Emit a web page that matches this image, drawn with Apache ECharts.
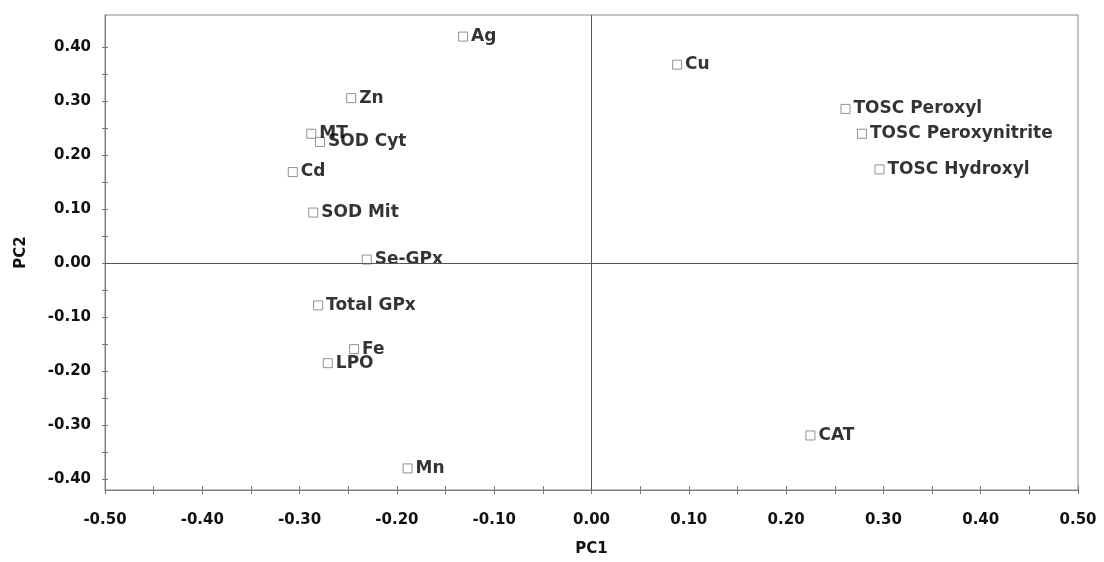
<!DOCTYPE html>
<html lang="en">
<head>
	<meta charset="UTF-8">
	<title>PCA loadings</title>
	<style>
		html, body { margin: 0; padding: 0; background: #fff; }
		#main { width: 1104px; height: 562px; }
	</style>
</head>
<body>
	<div id="main"></div>
<script type="text/javascript" src="https://cdn.jsdelivr.net/npm/echarts@6/dist/echarts.min.js"></script>
<script type="text/javascript">
		// 变量名称
		var names = ['Ag', 'Zn', 'MT', 'SOD Cyt', 'Cd', 'SOD Mit', 'Se-GPx', 'Total GPx', 'Fe', 'LPO', 'Mn',
			'Cu', 'TOSC Peroxyl', 'TOSC Peroxynitrite', 'TOSC Hydroxyl', 'CAT'];
		// PC1 坐标
		var pc1 = [-0.132, -0.247, -0.288, -0.279, -0.307, -0.286, -0.231, -0.281, -0.244, -0.271, -0.189,
			0.088, 0.261, 0.278, 0.296, 0.225];
		// PC2 坐标
		var pc2 = [0.420, 0.306, 0.240, 0.225, 0.169, 0.094, 0.007, -0.078, -0.159, -0.185, -0.380,
			0.368, 0.286, 0.240, 0.174, -0.319];
		// 刻度
		var xTicks = [-0.5, -0.4, -0.3, -0.2, -0.1, 0, 0.1, 0.2, 0.3, 0.4, 0.5];
		var yTicks = [-0.4, -0.3, -0.2, -0.1, 0, 0.1, 0.2, 0.3, 0.4];

		var xMinor = [];
		for (var i = 0; i < xTicks.length; i++) {
			xMinor.push(xTicks[i]);
			if (i < xTicks.length - 1) xMinor.push(+(xTicks[i] + 0.05).toFixed(2));
		}
		var yMinor = [];
		for (var j = 0; j < yTicks.length; j++) {
			yMinor.push(yTicks[j]);
			if (j < yTicks.length - 1) yMinor.push(+(yTicks[j] + 0.05).toFixed(2));
		}

		var points = [];
		for (var k = 0; k < names.length; k++) {
			points.push({ name: names[k], value: [pc1[k], pc2[k]] });
		}

		var font = 'DejaVu Sans, Liberation Sans, sans-serif';
		var axisColor = '#7a7a7a';
		var fmt = function (v) { return (+v).toFixed(2); };

		var myChart = echarts.init(document.getElementById('main'));
		var option = {
			animation: false,
			grid: {
				left: 105, right: 26, top: 15, bottom: 72,
				show: true, borderColor: '#8a8a8a', borderWidth: 1
			},
			xAxis: [{
				type: 'value', min: -0.5, max: 0.5,
				name: 'PC1', nameLocation: 'middle', nameGap: 52,
				nameTextStyle: { fontFamily: font, fontWeight: 'bold', fontSize: 15, color: '#111' },
				axisLine: { show: true, onZero: false, lineStyle: { color: axisColor, width: 1 } },
				axisTick: { show: true, customValues: xMinor, length: 4, lineStyle: { color: axisColor } },
				axisLabel: {
					customValues: xTicks, formatter: fmt, margin: 23,
					fontFamily: font, fontWeight: 'bold', fontSize: 15, color: '#111'
				},
				splitLine: { show: false }
			}, {
				type: 'value', min: -0.5, max: 0.5, position: 'bottom',
				axisLine: { show: false, onZero: false },
				axisTick: { show: true, inside: true, customValues: xMinor, length: 4, lineStyle: { color: axisColor } },
				axisLabel: { show: false },
				splitLine: { show: false }
			}],
			yAxis: [{
				type: 'value', min: -0.42, max: 0.46,
				name: 'PC2', nameLocation: 'middle', nameGap: 76, nameRotate: 90,
				nameTextStyle: { fontFamily: font, fontWeight: 'bold', fontSize: 15, color: '#111' },
				axisLine: { show: true, onZero: false, lineStyle: { color: axisColor, width: 1 } },
				axisTick: { show: true, customValues: yMinor, length: 3, lineStyle: { color: axisColor } },
				axisLabel: {
					customValues: yTicks, formatter: fmt, margin: 14,
					fontFamily: font, fontWeight: 'bold', fontSize: 15, color: '#111'
				},
				splitLine: { show: false }
			}, {
				type: 'value', min: -0.42, max: 0.46, position: 'left',
				axisLine: { show: false, onZero: false },
				axisTick: { show: true, inside: true, customValues: yMinor, length: 3, lineStyle: { color: axisColor } },
				axisLabel: { show: false },
				splitLine: { show: false }
			}],
			series: [{
				type: 'scatter',
				xAxisIndex: 0, yAxisIndex: 0,
				symbol: 'rect',
				symbolSize: 9,
				itemStyle: { color: '#fff', borderColor: '#777', borderWidth: 1 },
				label: {
					show: true, position: 'right', distance: 3,
					formatter: '{b}',
					fontFamily: font, fontWeight: 'bold', fontSize: 17, color: '#000'
				},
				markLine: {
					silent: true, symbol: 'none',
					label: { show: false },
					lineStyle: { color: '#555', width: 1, type: 'solid' },
					data: [{ xAxis: 0 }, { yAxis: 0 }]
				},
				data: points
			}]
		};
		myChart.setOption(option);
</script>
</body>
</html>
